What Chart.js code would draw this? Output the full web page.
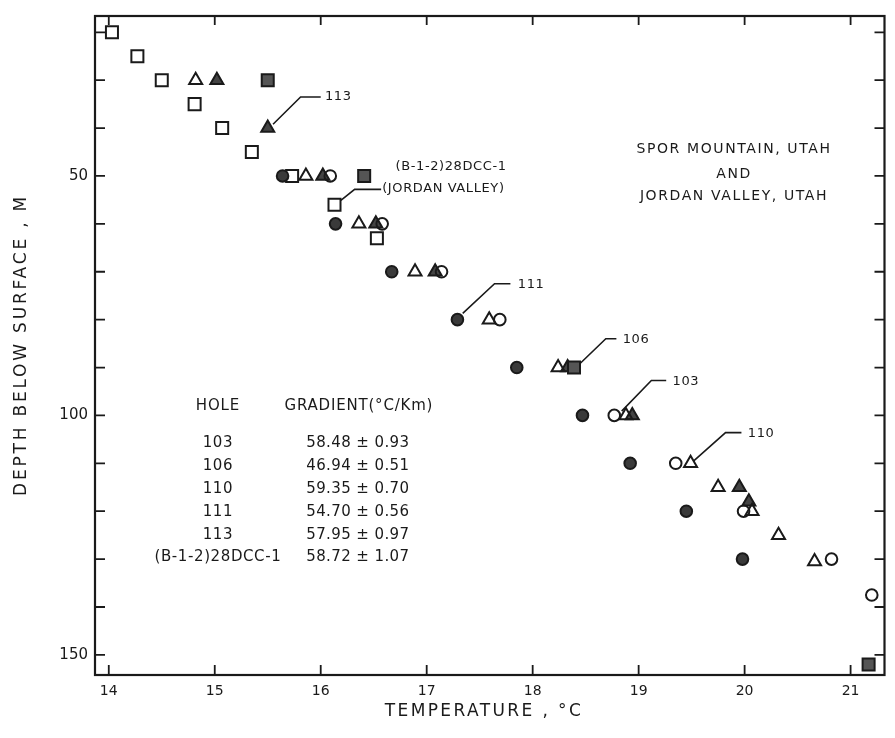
<!DOCTYPE html>
<html>
<head>
<meta charset="utf-8">
<script src="https://cdn.jsdelivr.net/npm/chart.js@4/dist/chart.umd.min.js"></script>
<style>
  html, body { margin: 0; padding: 0; background: #fff; }
  #wrap { width: 895px; height: 738px; }
</style>
</head>
<body>
<div id="wrap"><canvas id="perfilChart"></canvas></div>
<script>
// valores: temperatura (°C) y profundidad (m) de cada pozo
const hole103Temp  = [16.09, 16.58, 17.14, 17.69, 18.77, 19.35, 19.99, 20.82, 21.20];
const hole103Depth = [50, 60, 70, 80, 100, 110, 120, 130, 137.5];

const hole106Temp  = [15.50, 16.41, 18.39, 21.17];
const hole106Depth = [30, 50, 90, 152];

const hole110Temp  = [14.82, 15.86, 16.36, 16.89, 17.59, 18.24, 18.88, 19.49, 19.75, 20.07, 20.32, 20.66];
const hole110Depth = [30, 50, 60, 70, 80, 90, 100, 110, 115, 120, 125, 130.5];

const hole111Temp  = [15.64, 16.14, 16.67, 17.29, 17.85, 18.47, 18.92, 19.45, 19.98];
const hole111Depth = [50, 60, 70, 80, 90, 100, 110, 120, 130];

const hole113Temp  = [15.02, 15.50, 16.02, 16.52, 17.08, 18.33, 18.94, 19.95, 20.04];
const hole113Depth = [30, 40, 50, 60, 70, 90, 100, 115, 118];

const holeBTemp  = [14.03, 14.27, 14.50, 14.81, 15.07, 15.35, 15.73, 16.13, 16.53];
const holeBDepth = [20, 25, 30, 35, 40, 45, 50, 56, 63];

// tabla de gradientes
const holeNames = ['103', '106', '110', '111', '113', '(B-1-2)28DCC-1'];
const gradients = ['58.48 ± 0.93', '46.94 ± 0.51', '59.35 ± 0.70', '54.70 ± 0.56', '57.95 ± 0.97', '58.72 ± 1.07'];

// marcas de los ejes
const xTicks = [14, 15, 16, 17, 18, 19, 20, 21];
const yLabels = [50, 100, 150];
const yMarks = [20, 30, 40, 50, 60, 70, 80, 90, 100, 110, 120, 130, 140, 150];

const ink = '#1a1a1a';
const font = '"DejaVu Sans", sans-serif';

const pares = (t, d) => t.map((v, i) => ({ x: v, y: d[i] }));

// etiquetas con línea guía, en unidades de datos (°C, m)
const guias = [
  { text: '113', pts: [[15.55, 39.2], [15.81, 33.5], [16.00, 33.5]], at: [16.04, 33.5] },
  { text: '(JORDAN VALLEY)', pts: [[16.19, 55.1], [16.32, 52.8], [16.57, 52.8]], at: [16.58, 52.6] },
  { text: '111', pts: [[17.34, 78.7], [17.64, 72.5], [17.79, 72.5]], at: [17.86, 72.6] },
  { text: '106', pts: [[18.45, 89.1], [18.69, 84.0], [18.79, 84.0]], at: [18.85, 84.2] },
  { text: '103', pts: [[18.84, 99.1], [19.12, 92.7], [19.26, 92.7]], at: [19.32, 92.9] },
  { text: '110', pts: [[19.52, 109.5], [19.82, 103.6], [19.97, 103.6]], at: [20.03, 103.8] }
];

function texto(ctx, str, px, py, align, size, spacing) {
  ctx.font = size + 'px ' + font;
  ctx.letterSpacing = (spacing || 0) + 'px';
  ctx.textAlign = align;
  ctx.textBaseline = 'middle';
  ctx.fillText(str, px, py);
}

const marcoPlugin = {
  id: 'marco',
  afterDatasetsDraw(chart) {
    const { ctx, chartArea: a, scales: { x, y } } = chart;
    ctx.save();
    ctx.strokeStyle = ink;
    ctx.fillStyle = ink;
    ctx.lineWidth = 2.2;
    ctx.strokeRect(a.left, a.top, a.right - a.left, a.bottom - a.top);

    // ticks hacia dentro en los cuatro lados
    ctx.lineWidth = 1.8;
    ctx.beginPath();
    xTicks.forEach(v => {
      const px = x.getPixelForValue(v);
      ctx.moveTo(px, a.bottom); ctx.lineTo(px, a.bottom - 10);
      ctx.moveTo(px, a.top); ctx.lineTo(px, a.top + 9);
    });
    yMarks.forEach(v => {
      const py = y.getPixelForValue(v);
      ctx.moveTo(a.left, py); ctx.lineTo(a.left + 10, py);
      ctx.moveTo(a.right, py); ctx.lineTo(a.right - 10, py);
    });
    ctx.stroke();

    // líneas guía y nombres de pozo
    ctx.lineWidth = 1.6;
    guias.forEach(g => {
      ctx.beginPath();
      g.pts.forEach((p, i) => {
        const px = x.getPixelForValue(p[0]), py = y.getPixelForValue(p[1]);
        if (i === 0) ctx.moveTo(px, py); else ctx.lineTo(px, py);
      });
      ctx.stroke();
      texto(ctx, g.text, x.getPixelForValue(g.at[0]), y.getPixelForValue(g.at[1]), 'left', 13, 0.6);
    });
    texto(ctx, '(B-1-2)28DCC-1', x.getPixelForValue(17.23), y.getPixelForValue(48.0), 'center', 13, 0.6);

    // título del sitio
    const cx = x.getPixelForValue(19.9);
    texto(ctx, 'SPOR MOUNTAIN, UTAH', cx, y.getPixelForValue(44.5), 'center', 14, 1.6);
    texto(ctx, 'AND', cx, y.getPixelForValue(49.6), 'center', 14, 1.6);
    texto(ctx, 'JORDAN VALLEY, UTAH', cx, y.getPixelForValue(54.2), 'center', 14, 1.6);

    // tabla de gradientes
    const c1 = x.getPixelForValue(15.03), c2 = x.getPixelForValue(16.35);
    texto(ctx, 'HOLE', c1, y.getPixelForValue(98.1), 'center', 15, 0.8);
    texto(ctx, 'GRADIENT(°C/Km)', x.getPixelForValue(16.36), y.getPixelForValue(98.1), 'center', 15, 0.8);
    const filas = [105.7, 110.5, 115.4, 120.2, 124.9, 129.6];
    holeNames.forEach((h, i) => {
      const py = y.getPixelForValue(filas[i]);
      texto(ctx, h, c1, py, 'center', 15, 0.6);
      texto(ctx, gradients[i], c2, py, 'center', 15, 0.4);
    });

    // títulos de los ejes
    texto(ctx, 'TEMPERATURE , °C', 484, 712, 'center', 17, 2.4);
    ctx.translate(22, 345);
    ctx.rotate(-Math.PI / 2);
    texto(ctx, 'DEPTH BELOW SURFACE , M', 0, 0, 'center', 17, 2.8);
    ctx.restore();
  }
};

function serie(label, t, d, style, fill, radius) {
  return {
    label: label,
    data: pares(t, d),
    pointStyle: style,
    pointRadius: radius,
    pointBackgroundColor: fill,
    pointBorderColor: ink,
    pointBorderWidth: 2,
    showLine: false
  };
}

new Chart(document.getElementById('perfilChart').getContext('2d'), {
  type: 'scatter',
  data: {
    datasets: [
      serie('103', hole103Temp, hole103Depth, 'circle', 'rgba(255,255,255,0)', 5.8),
      serie('106', hole106Temp, hole106Depth, 'rect', '#555', 8.5),
      serie('110', hole110Temp, hole110Depth, 'triangle', 'rgba(255,255,255,0)', 7.5),
      serie('111', hole111Temp, hole111Depth, 'circle', '#3a3a3a', 5.8),
      serie('113', hole113Temp, hole113Depth, 'triangle', '#444', 7.5),
      serie('(B-1-2)28DCC-1', holeBTemp, holeBDepth, 'rect', 'rgba(255,255,255,0)', 8.5)
    ]
  },
  options: {
    responsive: true,
    maintainAspectRatio: false,
    animation: false,
    layout: { padding: { top: 13, right: 2, left: 0, bottom: 0 } },
    plugins: { legend: { display: false }, tooltip: { enabled: false } },
    scales: {
      x: {
        type: 'linear',
        min: 13.87,
        max: 21.32,
        grid: { display: false, drawTicks: false },
        border: { display: false },
        afterBuildTicks: s => { s.ticks = xTicks.map(v => ({ value: v })); },
        afterFit: s => { s.height = 63; },
        ticks: { padding: 8, color: ink, font: { family: font, size: 14 }, autoSkip: false, maxRotation: 0 }
      },
      y: {
        type: 'linear',
        reverse: true,
        min: 16.6,
        max: 154.2,
        grid: { display: false, drawTicks: false },
        border: { display: false },
        afterBuildTicks: s => { s.ticks = yLabels.map(v => ({ value: v })); },
        afterFit: s => { s.width = 95; },
        ticks: { padding: 7, color: ink, font: { family: font, size: 15 }, autoSkip: false }
      }
    }
  },
  plugins: [marcoPlugin]
});
</script>
</body>
</html>
